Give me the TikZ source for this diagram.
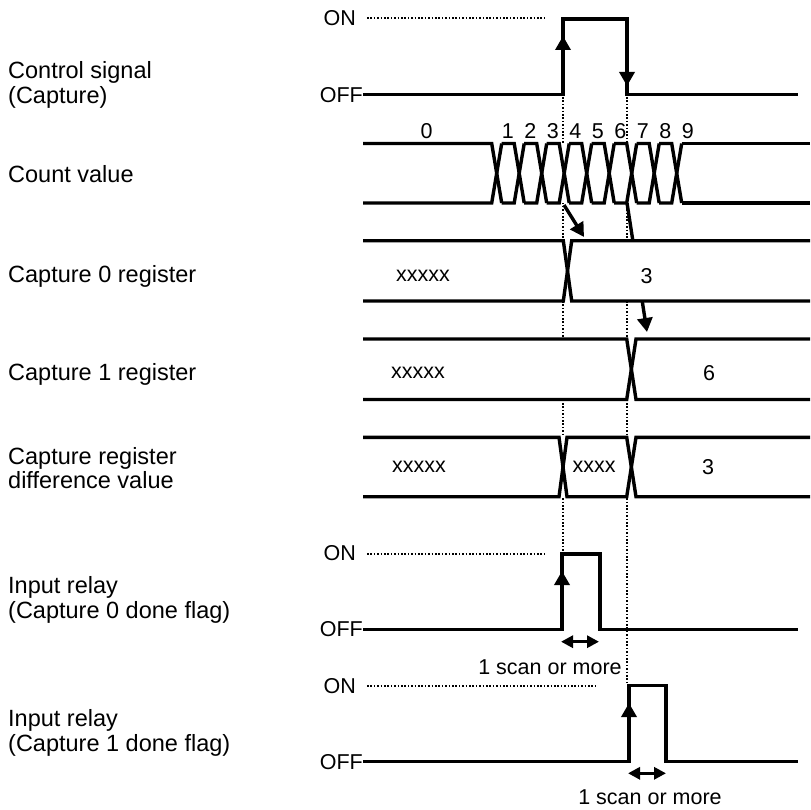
\documentclass[tikz,border=0pt]{standalone}
\usepackage{fontspec}
\setmainfont{Liberation Sans}
\usetikzlibrary{arrows.meta}
\definecolor{cNet}{HTML}{000000}
\definecolor{cNen}{HTML}{FFFFFF}
\def\Lcontrol{Control signal\\(Capture)}
\def\Lcount{Count value}
\def\Lcapa{Capture 0 register}
\def\Lcapb{Capture 1 register}
\def\Ldiff{Capture register\\difference value}
\def\Lrelaya{Input relay\\(Capture 0 done flag)}
\def\Lrelayb{Input relay\\(Capture 1 done flag)}
\def\Lscan{1 scan or more}

\begin{document}
\begin{tikzpicture}[x=1pt, y=-1pt,
  netsong/.style={draw=cNet, line width=3.4pt},
  netcham/.style={draw=cNet, line width=2pt, dash pattern=on 1.6pt off 1.8pt},
  muiten/.style={draw=cNet, line width=3.4pt, -{Triangle[length=14pt,width=15pt]}},
  haimui/.style={draw=cNet, line width=3.4pt,
    {Triangle[length=12pt,width=12pt]}-{Triangle[length=12pt,width=12pt]}},
  nhantrai/.style={anchor=west, align=left, inner sep=0pt,
    font=\fontsize{23.5}{24.5}\selectfont},
  nhanmuc/.style={anchor=east, inner sep=0pt, font=\fontsize{21.5}{24}\selectfont},
  chuso/.style={inner sep=0pt, font=\fontsize{21.5}{24}\selectfont}
]
\useasboundingbox (0,0) rectangle (810,810);

% ── Hai moc thoi gian: canh len va canh xuong cua tin hieu dieu khien ──
\def\Ta{563}   \def\Tb{627}
\def\Xs{363}   \def\Xe{810}   \def\Xr{798}

% Duong cham doc ve TRUOC, cac bang bus to nen trang se che phan ben trong
\draw[netcham] (\Ta,97) -- (\Ta,552);
\draw[netcham] (\Tb,97) -- (\Tb,684);

% Mui ten 6 -> Capture 1: ve truoc de bang Capture 0 che doan giua
\coordinate (dem6) at (627,203);
\coordinate (capb) at (647,332);
\draw[muiten] (dem6) -- (capb);

% ── Nhan ben trai ──
\node[nhantrai] (tControl) at (8,85) {\Lcontrol};
\node[nhantrai] (tCount)   at (8,174) {\Lcount};
\node[nhantrai] (tCapa)    at (8,276) {\Lcapa};
\node[nhantrai] (tCapb)    at (8,374) {\Lcapb};
\node[nhantrai] (tDiff)    at (8,468) {\Ldiff};
\node[nhantrai] (tRelaya)  at (8,600) {\Lrelaya};
\node[nhantrai] (tRelayb)  at (8,733) {\Lrelayb};

% ── Tin hieu dieu khien ──
\node[nhanmuc] (onA)  at (356,18) {ON};
\node[nhanmuc] (offA) at (\Xs,95) {OFF};
\draw[netcham] (367,18) -- (547,18);
\draw[netsong] (\Xs,94.5) -- (\Ta,94.5) -- (\Ta,19) -- (\Tb,19) -- (\Tb,94.5) -- (\Xr,94.5);
\coordinate (lenA) at (\Ta,36);
\coordinate (xuongA) at (\Tb,86);
\draw[muiten] (\Ta,94.5) -- (lenA);
\draw[muiten] (\Tb,19) -- (xuongA);

% ── Gia tri dem: 9 diem cheo, buoc 22,5 ──
\def\Ct{143.5} \def\Cb{203} \def\h{5}
\fill[cNen] (\Xs,\Ct) rectangle (\Xe,\Cb);
\foreach \k in {0,...,8} {
  \pgfmathsetmacro\c{496.7+22.5*\k}
  \pgfmathsetmacro\p{\k==0 ? \Xs : \c-22.5+\h}
  \draw[netsong] (\p,\Ct) -- ({\c-\h},\Ct) -- ({\c+\h},\Cb);
  \draw[netsong] (\p,\Cb) -- ({\c-\h},\Cb) -- ({\c+\h},\Ct);
  \node[chuso] (so\k) at ({\c+11.25},131) {\pgfmathparse{int(\k+1)}\pgfmathresult};
}
\draw[netsong] ({676.7+\h},\Ct) -- (\Xe,\Ct);
\draw[netsong] ({676.7+\h},\Cb) -- (\Xe,\Cb);
\node[chuso] (so0) at (426.7,131) {0};

% ── Thanh ghi Capture 0 ──
\def\At{240.7} \def\Ab{301}
\fill[cNen] (\Xs,\At) rectangle (\Xe,\Ab);
\draw[netsong] (\Xs,\At) -- (563.3,\At) -- (571.7,\Ab) -- (\Xe,\Ab);
\draw[netsong] (\Xs,\Ab) -- (563.3,\Ab) -- (571.7,\At) -- (\Xe,\At);
\node[chuso] (xa) at (423,276) {xxxxx};
\node[chuso] (va) at (646.7,276) {3};

% Mui ten 4 -> Capture 0
\coordinate (dem4) at (564,205);
\coordinate (capa) at (584,237);
\draw[muiten] (dem4) -- (capa);

% ── Thanh ghi Capture 1 ──
\def\Bt{339} \def\Bb{399.5}
\fill[cNen] (\Xs,\Bt) rectangle (\Xe,\Bb);
\draw[netsong] (\Xs,\Bt) -- (626.7,\Bt) -- (636,\Bb) -- (\Xe,\Bb);
\draw[netsong] (\Xs,\Bb) -- (626.7,\Bb) -- (636,\Bt) -- (\Xe,\Bt);
\node[chuso] (xb) at (418,373) {xxxxx};
\node[chuso] (vb) at (709,373) {6};

% ── Gia tri chenh lech ──
\def\Dt{437.3} \def\Db{496.7}
\fill[cNen] (\Xs,\Dt) rectangle (\Xe,\Db);
\draw[netsong] (\Xs,\Dt) -- (559,\Dt) -- (567,\Db) -- (626.7,\Db) -- (636,\Dt) -- (\Xe,\Dt);
\draw[netsong] (\Xs,\Db) -- (559,\Db) -- (567,\Dt) -- (626.7,\Dt) -- (636,\Db) -- (\Xe,\Db);
\node[chuso] (xd) at (419,467) {xxxxx};
\node[chuso] (xe) at (594,467) {xxxx};
\node[chuso] (vd) at (708,467) {3};

% ── Role vao: co xong Capture 0 ──
\node[nhanmuc] (onB)  at (356,553) {ON};
\node[nhanmuc] (offB) at (\Xs,629) {OFF};
\draw[netcham] (367,554) -- (547,554);
\draw[netsong] (\Xs,629.3) -- (562,629.3) -- (562,554) -- (600,554) -- (600,629.3) -- (\Xr,629.3);
\coordinate (lenB) at (562,571);
\draw[muiten] (562,629.3) -- (lenB);
\coordinate (quetBa) at (561,641.7);
\coordinate (quetBb) at (599,641.7);
\draw[haimui] (quetBa) -- (quetBb);
\node[chuso] (scanB) at (550,667) {\Lscan};

% ── Role vao: co xong Capture 1 ──
\node[nhanmuc] (onC)  at (356,686) {ON};
\node[nhanmuc] (offC) at (\Xs,762) {OFF};
\draw[netcham] (367,685.7) -- (595,685.7);
\draw[netsong] (\Xs,761.7) -- (629,761.7) -- (629,685.7) -- (666,685.7) -- (666,761.7) -- (\Xr,761.7);
\coordinate (lenC) at (629,703);
\draw[muiten] (629,761.7) -- (lenC);
\coordinate (quetCa) at (628,773.3);
\coordinate (quetCb) at (666,773.3);
\draw[haimui] (quetCa) -- (quetCb);
\node[chuso] (scanC) at (650,797) {\Lscan};

\end{tikzpicture}
\end{document}
